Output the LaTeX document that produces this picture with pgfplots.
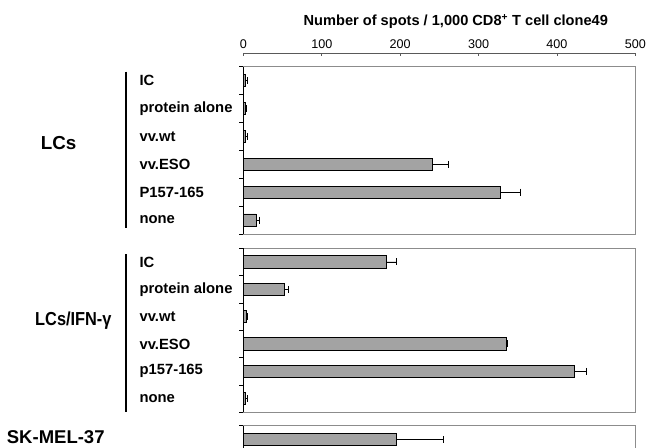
\documentclass[border=0pt]{standalone}
\usepackage{pgfplots}
\pgfplotsset{compat=1.18}
\usepackage{fontspec}
\setmainfont{Liberation Sans}
\definecolor{barfill}{gray}{0.64}
\definecolor{boxgray}{gray}{0.55}

\pgfplotstableread{
y x err
1 3 2
2 2 2
3 3 2
4 241 20
5 328 25
6 16 5
}\lcs
\pgfplotstableread{
y x err
1 183 12
2 52 6
3 4 0.5
4 335 2
5 422 15
6 3 2
}\lcsifn
\pgfplotstableread{
y x err
1 195 60
}\skmel

\begin{document}
\begin{tikzpicture}[x=1pt,y=1pt]
\pgfplotsset{
 panel/.style={
  scale only axis, width=391.9pt, xmin=0, xmax=500,
  y dir=reverse, xtick=\empty, ytick pos=left,
  axis line style={boxgray, line width=0.7pt},
  ytick={1,...,6}, major tick length=0pt,
  extra y ticks={0.5,1.5,...,6.5}, extra y tick labels={},
  extra y tick style={major tick length=4pt, tick style={black, line width=0.7pt}, tick align=outside},
  yticklabel style={anchor=west, inner sep=0pt, xshift=-104pt, font=\bfseries\fontsize{14.8}{16}\selectfont},
  ymin=0.5, ymax=6.5,
  clip=false,
 },
 bars/.style={xbar, bar width=12.3pt, bar shift=0pt, fill=barfill, draw=black, line width=0.8pt,
   error bars/.cd, x dir=plus, x explicit,
   error bar style={black, line width=0.8pt},
   error mark options={black, line width=0.8pt, mark size=3.5pt, rotate=90}},
}

% top axis with ticks and title
\begin{axis}[at={(243.4pt,-53.3pt)}, anchor=north west, scale only axis,
  width=391.9pt, height=5pt, xmin=0, xmax=500, ymin=0, ymax=1,
  axis y line=none, axis x line=top, x axis line style={-},
  axis line style={black!65, line width=0.7pt},
  xtick={0,100,...,500}, tick align=inside, major tick length=3pt,
  tick style={black!65, line width=0.7pt},
  /pgf/number format/assume math mode=true,
  xticklabel style={font=\fontsize{12.6}{14}\selectfont, inner sep=2pt, yshift=2pt},
]
\end{axis}

\node[anchor=base, font=\bfseries\fontsize{14.6}{16}\selectfont] at (455.8pt,-25.5pt)
  {Number of spots / 1,000 CD8\textsuperscript{+} T cell clone49};

% panel 1
\begin{axis}[panel, at={(243.4pt,-234pt)}, anchor=south west, height=167.3pt,
  yticklabels={IC, protein alone, vv.wt, vv.ESO, P157-165, none}]
\addplot[bars] table[x=x, y=y, x error=err] {\lcs};
\draw[black, line width=1pt] (rel axis cs:0,0) -- (rel axis cs:0,1);
\end{axis}

% panel 2
\begin{axis}[panel, at={(243.4pt,-412.3pt)}, anchor=south west, height=164pt,
  yticklabels={IC, protein alone, vv.wt, vv.ESO, p157-165, none}]
\addplot[bars] table[x=x, y=y, x error=err] {\lcsifn};
\draw[black, line width=1pt] (rel axis cs:0,0) -- (rel axis cs:0,1);
\end{axis}

% panel 3
\begin{axis}[panel, at={(243.4pt,-453.6pt)}, anchor=south west, height=27.9pt,
  ymin=0.5, ymax=1.5, ytick={1}, yticklabels={}, extra y ticks={0.5,1.5}]
\addplot[bars] table[x=x, y=y, x error=err] {\skmel};
\draw[black, line width=1pt] (rel axis cs:0,0) -- (rel axis cs:0,1);
\end{axis}

% group brackets and labels
\draw[black, line width=2pt] (126pt,-71.7pt) -- (126pt,-228.3pt);
\draw[black, line width=2pt] (126pt,-254pt) -- (126pt,-411.7pt);
\node[anchor=west, inner sep=0pt, font=\bfseries\fontsize{18.8}{20}\selectfont] at (40.7pt,-143.3pt) {LCs};
\node[anchor=west, inner sep=0pt, font=\bfseries\fontsize{18.8}{20}\selectfont] at (35pt,-320.7pt) {\scalebox{0.87}[1]{LCs/IFN-γ}};
\node[anchor=west, inner sep=0pt, font=\bfseries\fontsize{18.5}{20}\selectfont] at (6.7pt,-437.5pt) {SK-MEL-37};

\pgfresetboundingbox
\path[use as bounding box] (0pt,0pt) rectangle (650pt,-447pt);
\end{tikzpicture}
\end{document}
